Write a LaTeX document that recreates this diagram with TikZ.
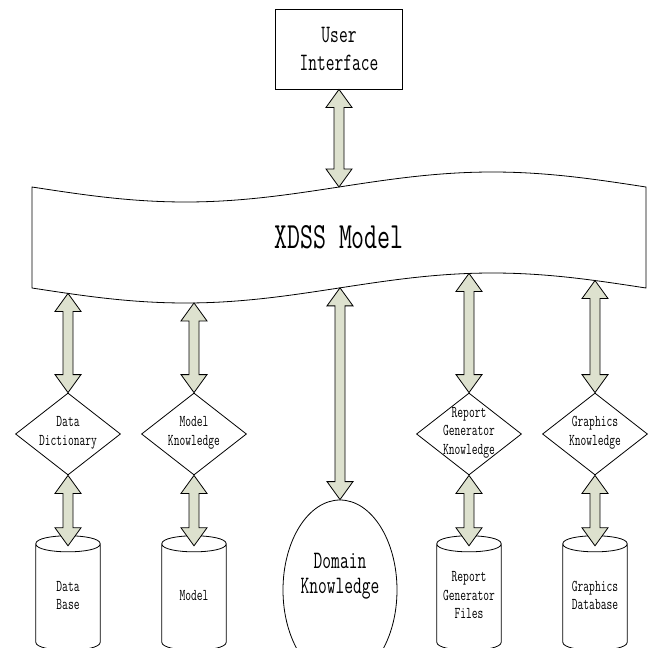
\documentclass[tikz,border=0pt]{standalone}
\usepackage{fontspec}
\newfontfamily\songti[FakeStretch=0.68]{Latin Modern Mono}
\usetikzlibrary{shapes.geometric, positioning, calc}
\definecolor{flowfill}{RGB}{221,225,206}
\tikzset{
	base/.style={draw, line width=0.8pt}, % thin black outlines
	uibox/.style={base, rectangle, minimum width=127pt, minimum height=80pt, align=center, font=\songti\fontsize{25}{28}\selectfont},
	decision/.style={base, diamond, minimum width=105pt, minimum height=82pt, inner sep=0pt, font=\songti\fontsize{16.5}{18.5}\selectfont},
	store/.style={rectangle, minimum width=64pt, minimum height=98pt, inner sep=0pt, font=\songti\fontsize{16.5}{18.5}\selectfont},
	bubble/.style={base, ellipse, minimum width=114pt, minimum height=180pt, inner sep=0pt, font=\songti\fontsize{25}{25}\selectfont},
	banner/.style={base, fill=white},
	flow/.style={draw, line width=0.8pt, fill=flowfill}, % hollow double arrows
}
% text that does not grow the shape
\newcommand{\lines}[2][-2.5pt]{\makebox[0pt]{\smash{\raisebox{#1}{\begin{tabular}{@{}c@{}}#2\end{tabular}}}}}
% wavy edge of the banner
\newcommand{\wave}[2]{#2+15*sin((#1-32)/614*360)}
% vertical double arrow from upper tip #1 to lower tip #2
\newcommand{\twoway}[2]{%
	\filldraw[flow] (#1) -- ++(13,18) -- ++(-8,0) -- ($(#2)+(5,-18)$) -- ++(8,0) -- (#2)
	-- ++(-13,-18) -- ++(8,0) -- ($(#1)+(-5,18)$) -- ++(-8,0) -- cycle;}
% drum outline round a store node
\newcommand{\drum}[1]{%
	\draw[base] (#1.north west) .. controls +(0,-10.7) and +(0,-10.7) .. (#1.north east)
	-- (#1.south east) .. controls +(0,10.7) and +(0,10.7) .. (#1.south west) -- cycle
	(#1.north west) .. controls +(0,10.7) and +(0,10.7) .. (#1.north east);}

\begin{document}
\begin{tikzpicture}[x=1pt, y=-1pt, on grid]
	\useasboundingbox (0,0) rectangle (651,648);
	\clip (0,0) rectangle (651,648);

	% User side
	\node[uibox] (ui) at (339,49) {User\\Interface};

	% XDSS banner
	\draw[banner] plot[domain=32:646, samples=90] (\x,{\wave{\x}{187}})
		-- plot[domain=646:32, samples=90] (\x,{\wave{\x}{288}}) -- cycle;
	\node[font=\songti\fontsize{37}{40}\selectfont] (xdss) at (339,237) {XDSS Model};
	\coordinate (ui-in) at (339,{\wave{339}{187}});

	% Knowledge shapes
	\node[decision] (dd) at (68,434) {\lines{Data\\Dictionary}};
	\node[decision, right=126pt of dd] (mk) {\lines{Model\\Knowledge}};
	\node[decision, right=275pt of mk] (rg) {\lines{Report\\Generator\\Knowledge}};
	\node[decision, right=126pt of rg] (gk) {\lines{Graphics\\Knowledge}};

	% Stores
	\node[store, below=159pt of dd] (db) {\lines[-8pt]{Data\\Base}};
	\node[store, below=159pt of mk] (mdl) {\lines[-8pt]{Model}};
	\node[store, below=159pt of rg] (rgf) {\lines[-8pt]{Report\\Generator\\Files}};
	\node[store, below=159pt of gk] (gdb) {\lines[-8pt]{Graphics\\Database}};
	\foreach \s in {db, mdl, rgf, gdb}
		\drum{\s};
	\node[bubble] (dk) at (340,590) {\lines[8pt]{Domain\\Knowledge}};

	\foreach \n/\px in {dd/68, mk/194, dk/340, rg/469, gk/595}
		\coordinate (\n-out) at (\px,{\wave{\px}{288}});

	% Links
	\twoway{ui.south}{ui-in}
	\twoway{dd-out}{dd.north}
	\twoway{mk-out}{mk.north}
	\twoway{rg-out}{rg.north}
	\twoway{gk-out}{gk.north}
	\twoway{dk-out}{dk.north}
	\twoway{dd.south}{$(db.north)+(0,2)$}
	\twoway{mk.south}{$(mdl.north)+(0,2)$}
	\twoway{rg.south}{$(rgf.north)+(0,2)$}
	\twoway{gk.south}{$(gdb.north)+(0,2)$}
\end{tikzpicture}
\end{document}
